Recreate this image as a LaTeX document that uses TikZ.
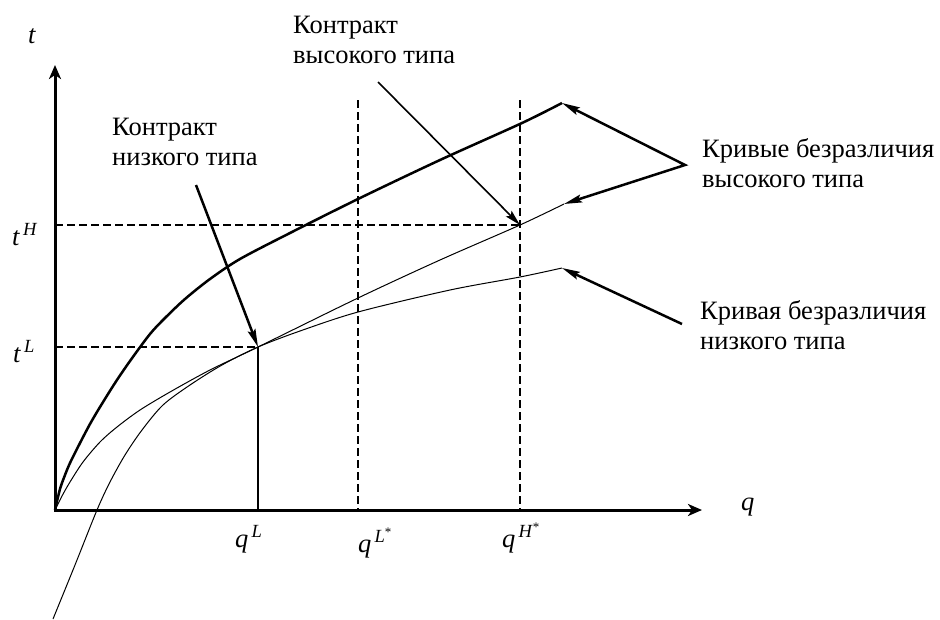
\documentclass[tikz,border=0pt]{standalone}
\usepackage{fontspec}
\setmainfont{Liberation Serif}
\usetikzlibrary{arrows.meta}
\newcommand{\axlbl}[2]{\textit{#1}\textsuperscript{\,\textit{#2}}}
\begin{document}
\begin{tikzpicture}[x=1pt,y=-1pt,
  txt/.style={inner sep=0pt, anchor=base west, font=\fontsize{26.5}{30}\selectfont, align=left},
  axis/.style={line width=3pt, {Stealth[length=14pt,width=12pt,inset=4pt]}-{Stealth[length=14pt,width=12pt,inset=4pt]}},
  guide/.style={line width=2.5pt, dash pattern=on 8pt off 4pt},
  vguide/.style={line width=2pt, dash pattern=on 8pt off 4pt},
  thickcurve/.style={line width=2.5pt, line join=round},
  thincurve/.style={line width=1pt, line join=round},
  pointer/.style={line width=2.5pt, -{Stealth[length=18pt,width=8pt,inset=3pt]}},
  pointers/.style={line width=2.5pt, {Stealth[length=18pt,width=8pt,inset=3pt]}-{Stealth[length=18pt,width=8pt,inset=3pt]}},
  thinpointer/.style={line width=1.6pt, -{Stealth[length=16pt,width=8pt,inset=3pt]}},
]
\useasboundingbox (0,0) rectangle (940,619);
% key points
\coordinate (O) at (55,510);
\coordinate (ytop) at (55,65);
\coordinate (xend) at (702,510);
\coordinate (LC) at (258,347);
\coordinate (HC) at (520,225);
\coordinate (qLstop) at (358,100);
\coordinate (qHstop) at (520,100);
\coordinate (thickend) at (562,103);
\coordinate (thinend) at (564,204);
\coordinate (lowend) at (562,268);
\coordinate (lowstart) at (196,185);
\coordinate (highstart) at (378,82);
\coordinate (hv) at (685,165);
\coordinate (lv) at (682,324);

% guides
\draw[guide] (O |- HC) -- (HC);
\draw[guide] (O |- LC) -- (LC);
\draw[vguide] (qLstop) -- (qLstop |- O);
\draw[vguide] (qHstop) -- (qHstop |- O);
\draw[line width=1.2pt] (LC) -- (LC |- O);

% axes
\draw[axis] (ytop) -- (O) -- (xend);

% curves
\draw[thickcurve] plot[smooth, tension=0.5] coordinates {(55,510) (60,489) (65,475) (70,463) (80,443) (90,424) (100,407) (115,383) (130,361) (150,334) (165,318) (185,299) (210,279) (240,259) (290,233) (358,199) (440,160) (522,123) (562,103)};
\draw[thincurve] plot[smooth, tension=0.5] coordinates {(55,510) (62,496) (70,482) (83,462) (100,442) (117,427) (140,410) (170,392) (210,370) (258,347) (358,298) (440,260) (520,225) (564,204)};
\draw[thincurve] plot[smooth, tension=0.5] coordinates {(53,619) (75,565) (97,510) (110,482) (125,455) (142,430) (163,405) (190,385) (222,365) (258,347) (300,331) (358,312) (450,290) (520,277) (562,268)};

% labels
\node[txt] (tlab) at (28,43) {\textit{t}};
\node[txt] (qlab) at (741,510) {\textit{q}};
\node[txt] (tH) at (12,245) {\axlbl{t}{H}};
\node[txt] (tL) at (13,362) {\axlbl{t}{L}};
\node[txt] (qL) at (235,547) {\axlbl{q}{L}};
\node[txt] (qLs) at (358,552) {\textit{q}\textsuperscript{\,\textit{L}\textsuperscript{*}}};
\node[txt] (qHs) at (502,547) {\textit{q}\textsuperscript{\,\textit{H}\textsuperscript{*}}};

\node[txt] (lowtxt) at (112,165) {Контракт\\низкого типа};
\node[txt] (hightxt) at (293,63) {Контракт\\высокого типа};
\node[txt] (hcurves) at (702,187) {Кривые безразличия\\высокого типа};
\node[txt] (lcurve) at (700,349) {Кривая безразличия\\низкого типа};

% pointers
\draw[pointer] (lowstart) -- (LC);
\draw[thinpointer] (highstart) -- (HC);
\draw[pointers] (thickend) -- (hv) -- (thinend);
\draw[pointer] (lv) -- (lowend);
\end{tikzpicture}
\end{document}
